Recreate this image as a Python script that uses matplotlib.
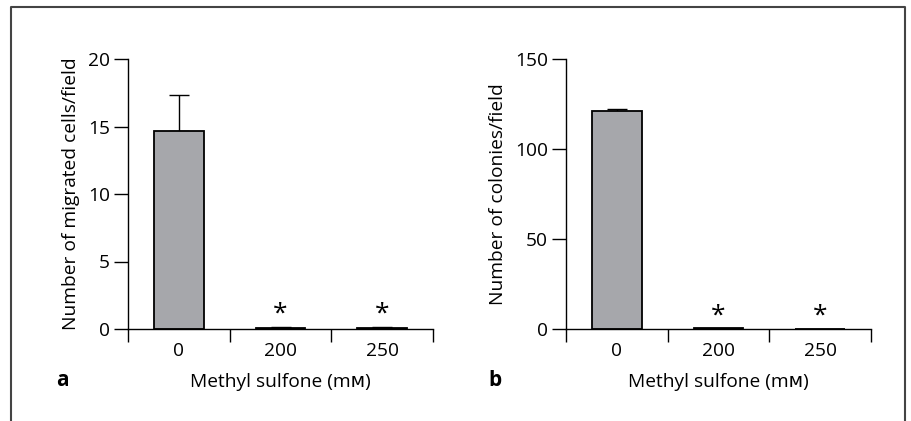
import matplotlib
matplotlib.use("Agg")
import matplotlib.pyplot as plt
from matplotlib.lines import Line2D

plt.rcParams['font.family'] = ['Open Sans', 'DejaVu Sans']

categories = ["0", "200", "250"]
migrated = [14.7, 0.08, 0.08]
migrated_err = [2.6, 0.08, 0.08]
colonies = [121.2, 0.4, 0.0]
colonies_err = [1.2, 0.0, 0.0]
stars_a = ["", "*", "*"]
stars_b = ["", "*", "*"]

W, H = 912, 421
fig = plt.figure(figsize=(W / 100, H / 100), dpi=100)

def px_axes(x0, y0, x1, y1):
    return fig.add_axes([x0 / W, 1 - y1 / H, (x1 - x0) / W, (y1 - y0) / H])

bar_color = "#a6a7ab"
FS = 13.8

def panel(ax, vals, errs, stars, ymax, yticks, ylabel):
    x = list(range(len(categories)))
    ax.bar(x, vals, width=0.49, color=bar_color, edgecolor="black", linewidth=1.3, zorder=2)
    for xi, v, e in zip(x, vals, errs):
        if e > 0:
            ax.errorbar(xi, v, yerr=[[0], [e]], fmt="none", ecolor="black",
                        elinewidth=1.0, capsize=7.5, capthick=1.0, zorder=1)
    for xi, v, e, s in zip(x, vals, errs, stars):
        if s:
            ax.annotate(s, xy=(xi, v + e), xytext=(0, 9), textcoords="offset points",
                        ha="center", va="center", fontsize=19)
    ax.set_xlim(-0.5, 2.5)
    ax.set_ylim(0, ymax)
    ax.set_yticks(yticks)
    ax.set_xticks([-0.5, 0.5, 1.5, 2.5])
    ax.set_xticklabels([])
    ax.set_xticks(x, minor=True)
    ax.set_xticklabels(categories, minor=True)
    ax.tick_params(axis="x", which="major", length=9, width=1.0, direction="out")
    ax.tick_params(axis="x", which="minor", length=0, pad=9, labelsize=FS)
    ax.tick_params(axis="y", length=10, width=1.0, direction="out", labelsize=FS, pad=3)
    for side in ("top", "right"):
        ax.spines[side].set_visible(False)
    for side in ("left", "bottom"):
        ax.spines[side].set_linewidth(1.0)
    ax.set_ylabel(ylabel, fontsize=FS, labelpad=6)
    ax.set_xlabel("Methyl sulfone (m\u1d0d)", fontsize=FS, labelpad=10)
    ax.patch.set_alpha(0)

ax1 = px_axes(128, 59, 433, 329)
panel(ax1, migrated, migrated_err, stars_a, 20, [0, 5, 10, 15, 20],
      "Number of migrated cells/field")
ax2 = px_axes(566, 59, 871, 329)
panel(ax2, colonies, colonies_err, stars_b, 150, [0, 50, 100, 150],
      "Number of colonies/field")

fig.text(62 / W, 1 - 380 / H, "a", fontsize=15, fontweight="bold", ha="center", va="center")
fig.text(495 / W, 1 - 380 / H, "b", fontsize=15, fontweight="bold", ha="center", va="center")

# outer frame
fx0, fy0, fx1 = 11.5 / W, 1 - 6.5 / H, 905 / W
fig.add_artist(Line2D([fx0, fx0, fx1, fx1], [0, fy0, fy0, 0], color="#444444",
                      linewidth=1.5, transform=fig.transFigure))

fig.savefig("out.png", dpi=100)
